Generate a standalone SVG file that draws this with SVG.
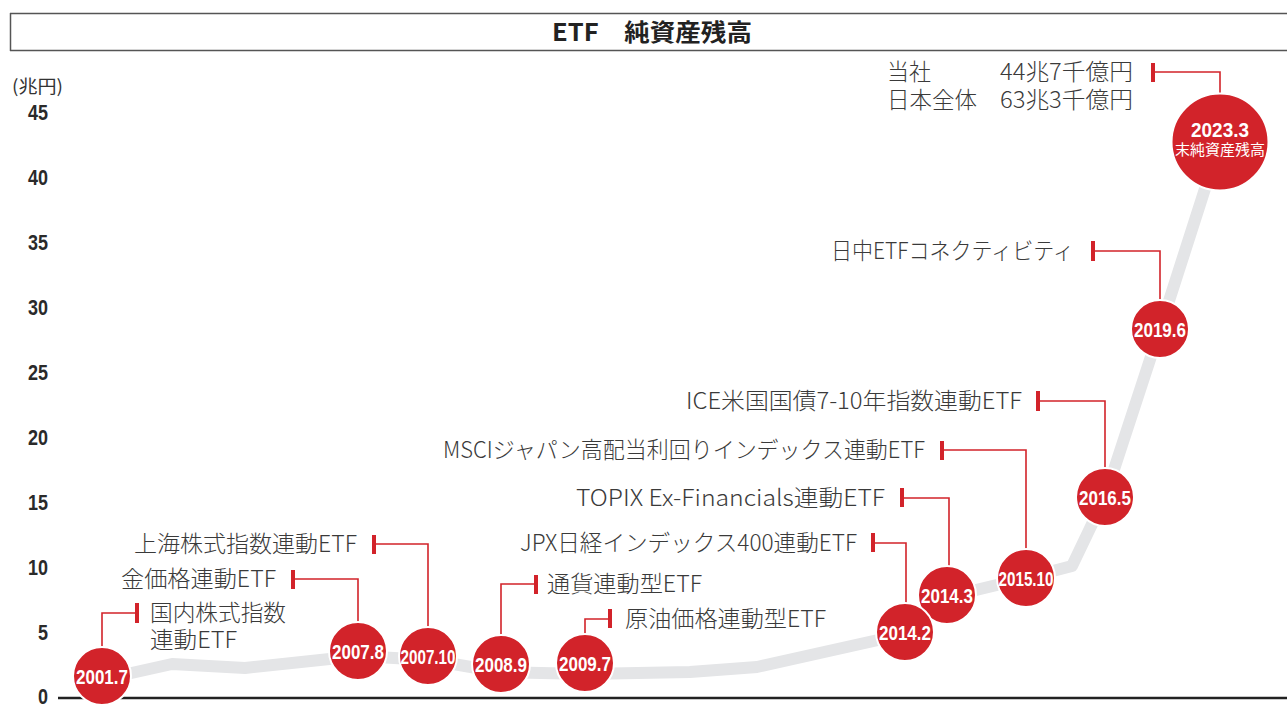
<svg xmlns="http://www.w3.org/2000/svg" width="1287" height="704" viewBox="0 0 1287 704">
<style>
.lbl{font-family:"Noto Sans CJK JP","Noto Sans",sans-serif;font-size:22.5px;fill:#3a3a3a;font-weight:300}
.ax{font-family:"Liberation Sans",sans-serif;font-weight:bold;font-size:22px;fill:#2a2a2a;text-anchor:end}
.dot{fill:#d2232a;stroke:#fff;stroke-width:2}
.dt{font-family:"Liberation Sans",sans-serif;font-weight:bold;font-size:21px;fill:#fff;text-anchor:middle}
.lead{fill:none;stroke:#d2232a;stroke-width:1.6}
.tick{fill:#d2232a}
</style>
<rect width="1287" height="704" fill="#fff"/>
<g id="title">
<line x1="10" y1="13.5" x2="1287" y2="13.5" stroke="#555" stroke-width="1.5"/>
<line x1="10" y1="50.5" x2="1287" y2="50.5" stroke="#555" stroke-width="1.5"/>
<line x1="10.5" y1="13" x2="10.5" y2="51" stroke="#555" stroke-width="1.5"/>
<text x="552" y="41" font-family="Noto Sans CJK JP,sans-serif" font-weight="bold" font-size="24" fill="#222" textLength="200" lengthAdjust="spacingAndGlyphs">ETF　純資産残高</text>
</g>
<g id="axis">
<text x="12" y="93" font-family="Noto Sans CJK JP,sans-serif" font-size="18" fill="#333" textLength="51" lengthAdjust="spacingAndGlyphs">(兆円)</text>
<text class="ax" x="48" y="120" textLength="20" lengthAdjust="spacingAndGlyphs">45</text>
<text class="ax" x="48" y="185" textLength="20" lengthAdjust="spacingAndGlyphs">40</text>
<text class="ax" x="48" y="250" textLength="20" lengthAdjust="spacingAndGlyphs">35</text>
<text class="ax" x="48" y="315" textLength="20" lengthAdjust="spacingAndGlyphs">30</text>
<text class="ax" x="48" y="380" textLength="20" lengthAdjust="spacingAndGlyphs">25</text>
<text class="ax" x="48" y="445" textLength="20" lengthAdjust="spacingAndGlyphs">20</text>
<text class="ax" x="48" y="510" textLength="20" lengthAdjust="spacingAndGlyphs">15</text>
<text class="ax" x="48" y="575" textLength="20" lengthAdjust="spacingAndGlyphs">10</text>
<text class="ax" x="48" y="640" textLength="10" lengthAdjust="spacingAndGlyphs">5</text>
<text class="ax" x="48" y="704" textLength="10" lengthAdjust="spacingAndGlyphs">0</text>
<line x1="58" y1="698" x2="1287" y2="698" stroke="#222" stroke-width="2.5"/>
</g>
<g id="series">
<polyline points="100,680 172,664 245,668 358,656 430,660 500,672 585,674 690,672 757,667 905,634 947,597 1026,578 1072,566 1105,497 1160,329 1220,142" fill="none" stroke="#e4e5e7" stroke-width="12" stroke-linejoin="round" stroke-linecap="round"/>
</g>
<g id="connectors">
<polyline class="lead" points="1153,72 1220,72 1220,100"/><rect class="tick" x="1151" y="63" width="4" height="19"/>
<polyline class="lead" points="1093,251 1160,251 1160,310"/><rect class="tick" x="1091" y="241" width="4" height="20"/>
<polyline class="lead" points="1038,401 1105,401 1105,480"/><rect class="tick" x="1036" y="391" width="4" height="20"/>
<polyline class="lead" points="942,450 1026,450 1026,560"/><rect class="tick" x="940" y="441" width="4" height="19"/>
<polyline class="lead" points="902,498 949,498 949,575"/><rect class="tick" x="900" y="488" width="4" height="19"/>
<polyline class="lead" points="873,543 906,543 906,615"/><rect class="tick" x="871" y="533" width="4" height="19"/>
<polyline class="lead" points="610,619 585,619 585,645"/><rect class="tick" x="608" y="609" width="4" height="19"/>
<polyline class="lead" points="536,584 501,584 501,645"/><rect class="tick" x="534" y="575" width="4" height="19"/>
<polyline class="lead" points="374,544 428,544 428,640"/><rect class="tick" x="372" y="535" width="4" height="19"/>
<polyline class="lead" points="293,579 358,579 358,630"/><rect class="tick" x="291" y="570" width="4" height="19"/>
<polyline class="lead" points="137,613 102,613 102,655"/><rect class="tick" x="135" y="603" width="4" height="20"/>
</g>
<g id="n2023">
<circle class="dot" cx="1220" cy="142" r="48.5"/>
<text class="dt" x="1220" y="137" font-size="23" textLength="58" lengthAdjust="spacingAndGlyphs">2023.3</text>
<text x="1220" y="155" text-anchor="middle" font-family="Noto Sans CJK JP,sans-serif" font-size="15" fill="#fff">末純資産残高</text>
<text class="lbl" x="887" y="80" textLength="44" lengthAdjust="spacingAndGlyphs">当社</text>
<text class="lbl" x="1000" y="80" textLength="133" lengthAdjust="spacingAndGlyphs">44兆7千億円</text>
<text class="lbl" x="887" y="108" textLength="90" lengthAdjust="spacingAndGlyphs">日本全体</text>
<text class="lbl" x="1000" y="108" textLength="133" lengthAdjust="spacingAndGlyphs">63兆3千億円</text>
</g>
<g id="n2019">
<circle class="dot" cx="1160" cy="329" r="29"/>
<text class="dt" x="1160" y="337" textLength="52" lengthAdjust="spacingAndGlyphs">2019.6</text>
<text class="lbl" x="831" y="259" textLength="243" lengthAdjust="spacingAndGlyphs">日中ETFコネクティビティ</text>
</g>
<g id="n2016">
<circle class="dot" cx="1105" cy="497" r="29"/>
<text class="dt" x="1105" y="505" textLength="52" lengthAdjust="spacingAndGlyphs">2016.5</text>
<text class="lbl" x="686" y="409" textLength="336" lengthAdjust="spacingAndGlyphs">ICE米国国債7-10年指数連動ETF</text>
</g>
<g id="n2015">
<circle class="dot" cx="1026" cy="578" r="29"/>
<text class="dt" x="1026" y="586" textLength="55" lengthAdjust="spacingAndGlyphs">2015.10</text>
<text class="lbl" x="443" y="458" textLength="482" lengthAdjust="spacingAndGlyphs">MSCIジャパン高配当利回りインデックス連動ETF</text>
</g>
<g id="n2014_3">
<circle class="dot" cx="947" cy="595" r="29"/>
<text class="dt" x="947" y="603" textLength="52" lengthAdjust="spacingAndGlyphs">2014.3</text>
<text class="lbl" x="576" y="506" textLength="309" lengthAdjust="spacingAndGlyphs">TOPIX Ex-Financials連動ETF</text>
</g>
<g id="n2014_2">
<circle class="dot" cx="905" cy="632" r="29"/>
<text class="dt" x="905" y="640" textLength="52" lengthAdjust="spacingAndGlyphs">2014.2</text>
<text class="lbl" x="520" y="551" textLength="337" lengthAdjust="spacingAndGlyphs">JPX日経インデックス400連動ETF</text>
</g>
<g id="n2009">
<circle class="dot" cx="585" cy="663" r="29"/>
<text class="dt" x="585" y="671" textLength="52" lengthAdjust="spacingAndGlyphs">2009.7</text>
<text class="lbl" x="625" y="627" textLength="201" lengthAdjust="spacingAndGlyphs">原油価格連動型ETF</text>
</g>
<g id="n2008">
<circle class="dot" cx="501" cy="664" r="29"/>
<text class="dt" x="501" y="672" textLength="52" lengthAdjust="spacingAndGlyphs">2008.9</text>
<text class="lbl" x="547" y="592" textLength="155" lengthAdjust="spacingAndGlyphs">通貨連動型ETF</text>
</g>
<g id="n2007_10">
<circle class="dot" cx="428" cy="656" r="29"/>
<text class="dt" x="428" y="664" textLength="55" lengthAdjust="spacingAndGlyphs">2007.10</text>
<text class="lbl" x="134" y="552" textLength="223" lengthAdjust="spacingAndGlyphs">上海株式指数連動ETF</text>
</g>
<g id="n2007_8">
<circle class="dot" cx="358" cy="651" r="29"/>
<text class="dt" x="358" y="659" textLength="52" lengthAdjust="spacingAndGlyphs">2007.8</text>
<text class="lbl" x="121" y="587" textLength="155" lengthAdjust="spacingAndGlyphs">金価格連動ETF</text>
</g>
<g id="n2001">
<circle class="dot" cx="102" cy="676" r="29"/>
<text class="dt" x="102" y="684" textLength="52" lengthAdjust="spacingAndGlyphs">2001.7</text>
<text class="lbl" x="150" y="621" textLength="136" lengthAdjust="spacingAndGlyphs">国内株式指数</text>
<text class="lbl" x="150" y="648" textLength="87" lengthAdjust="spacingAndGlyphs">連動ETF</text>
</g>
</svg>
